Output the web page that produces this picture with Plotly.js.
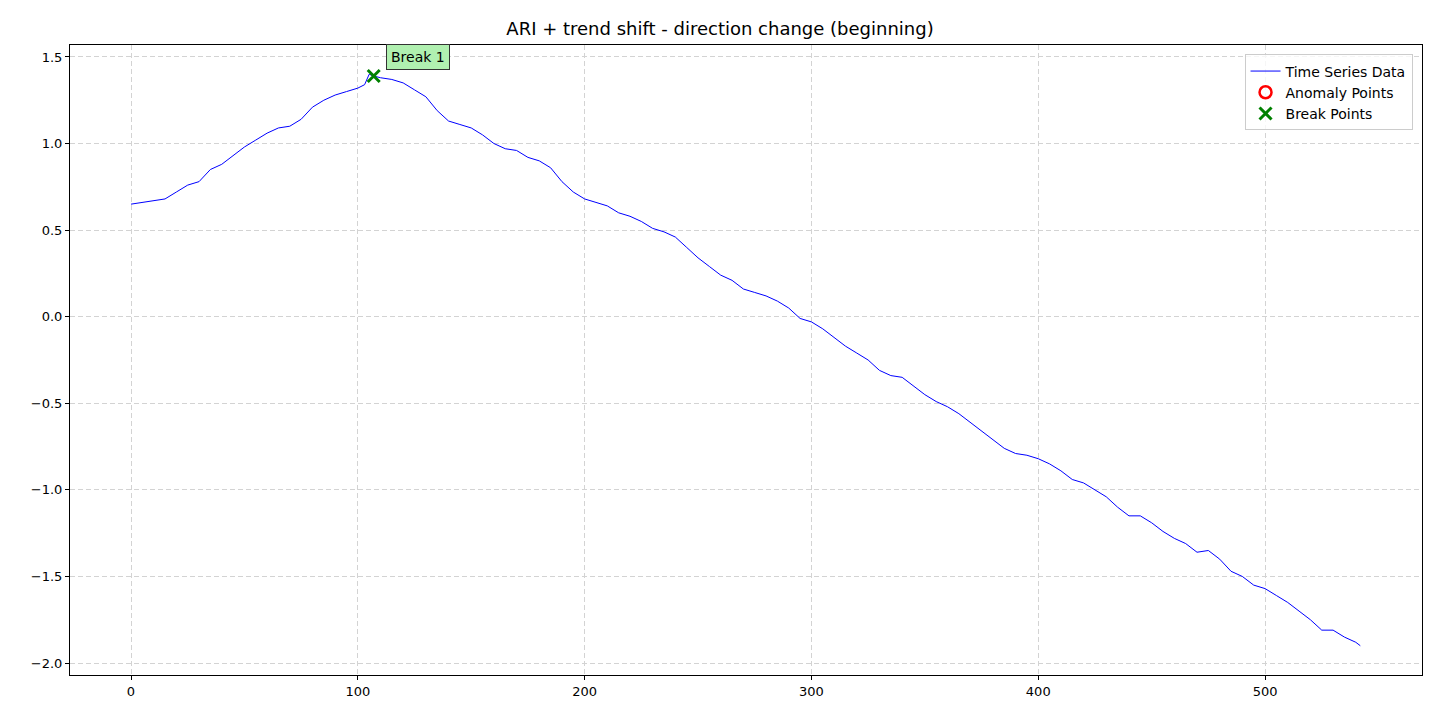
<!DOCTYPE html>
<html><head><meta charset="utf-8">
<script src="https://cdn.plot.ly/plotly-3.0.1.min.js"></script>
<style>html,body{margin:0;padding:0;background:#fff}#c{width:1440px;height:720px}</style>
</head><body><div id="c"></div>
<script>
const xs = [0,5,10,15,20,25,30,35,40,45,50,55,60,65,70,75,80,85,90,95,100,103,105,107,110,115,120,125,130,135,140,145,150,155,160,165,170,175,180,185,190,195,200,205,210,215,220,225,230,235,240,245,250,255,260,265,270,275,280,285,290,295,300,305,310,315,320,325,330,335,340,345,350,355,360,365,370,375,380,385,390,395,400,405,410,415,420,425,430,435,440,445,450,455,460,465,470,475,480,485,490,495,500,505,510,515,520,525,530,535,540,542];
const ys = [0.65,0.66,0.67,0.68,0.72,0.76,0.78,0.85,0.88,0.93,0.98,1.02,1.06,1.09,1.10,1.14,1.21,1.25,1.28,1.30,1.32,1.34,1.40,1.39,1.38,1.37,1.35,1.31,1.27,1.19,1.13,1.11,1.09,1.05,1.00,0.97,0.96,0.92,0.90,0.86,0.78,0.72,0.68,0.66,0.64,0.60,0.58,0.55,0.51,0.49,0.46,0.40,0.34,0.29,0.24,0.21,0.16,0.14,0.12,0.09,0.05,-0.01,-0.03,-0.07,-0.12,-0.17,-0.21,-0.25,-0.31,-0.34,-0.35,-0.40,-0.45,-0.49,-0.52,-0.56,-0.61,-0.66,-0.71,-0.76,-0.79,-0.80,-0.82,-0.85,-0.89,-0.94,-0.96,-1.00,-1.04,-1.10,-1.15,-1.15,-1.19,-1.24,-1.28,-1.31,-1.36,-1.35,-1.40,-1.47,-1.50,-1.55,-1.57,-1.61,-1.65,-1.70,-1.75,-1.81,-1.81,-1.85,-1.88,-1.90];
const breakX = [107];
const breakY = [1.39];
const breakLabels = ["Break 1"];
const anomX = [null], anomY = [null];

const font = {family:"DejaVu Sans", size:13, color:"#000"};
const traces = [
  {x:xs, y:ys, mode:"lines", name:"Time Series Data", line:{color:"blue", width:1}},
  {x:anomX, y:anomY, mode:"markers", name:"Anomaly Points", marker:{symbol:"circle-open", color:"red", size:12, line:{width:2.5, color:"red"}}},
  {x:breakX, y:breakY, mode:"markers", name:"Break Points", marker:{symbol:"x-thin-open", color:"green", size:12, line:{width:3, color:"green"}}}
];
const ax = {showline:true, mirror:true, linecolor:"#000", linewidth:1, ticks:"outside", ticklen:4, tickcolor:"#000",
  showgrid:true, gridcolor:"#d3d3d3", griddash:"5px,3px", zeroline:false, tickfont:font};
const layout = {
  width:1440, height:720, margin:{l:70, r:18, t:45, b:45},
  paper_bgcolor:"#fff", plot_bgcolor:"#fff", font:font,
  title:{text:"ARI + trend shift - direction change (beginning)", font:{family:"DejaVu Sans", size:18}, x:0.5, xanchor:"center", y:0.96, yanchor:"middle"},
  xaxis:Object.assign({range:[-26.9,569.2], tickvals:[0,100,200,300,400,500]}, ax),
  yaxis:Object.assign({range:[-2.069,1.569], tickvals:[-2,-1.5,-1,-0.5,0,0.5,1,1.5], ticktext:["−2.0","−1.5","−1.0","−0.5","0.0","0.5","1.0","1.5"]}, ax),
  showlegend:true,
  legend:{x:0.993, y:0.985, xanchor:"right", yanchor:"top", bgcolor:"rgba(255,255,255,0.8)", bordercolor:"#ccc", borderwidth:1, font:{family:"DejaVu Sans", size:14}, tracegroupgap:2},
  annotations: breakX.map((bx,i)=>({x:bx, y:breakY[i], text:breakLabels[i], showarrow:false, xanchor:"left", yanchor:"bottom",
    xshift:12, yshift:6, bgcolor:"#b0f0b0", bordercolor:"#333", borderwidth:1, borderpad:4, font:{family:"DejaVu Sans", size:14, color:"#000"}}))
};
Plotly.newPlot("c", traces, layout, {displayModeBar:false});
</script></body></html>
